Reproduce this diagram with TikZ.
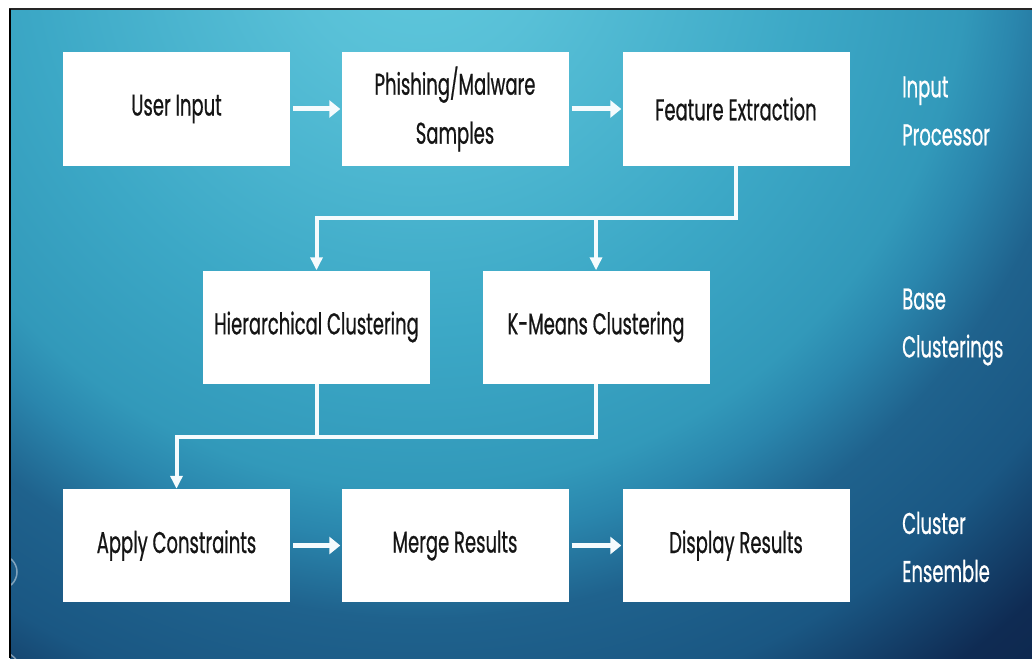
\documentclass[tikz,border=0pt]{standalone}
\usepackage{fontspec}
\setmainfont{Poppins}[FakeStretch=0.6, FakeBold=0.6]
\usetikzlibrary{arrows.meta}
\definecolor{boxtext}{HTML}{151515}
\definecolor{linec}{HTML}{F5FBFD}
\definecolor{bgA}{HTML}{5FC9DD}
\definecolor{bgB}{HTML}{58C0D7}
\definecolor{bgC}{HTML}{3CA8C6}
\definecolor{bgD}{HTML}{3299BA}
\definecolor{bgE}{HTML}{2A86AD}
\definecolor{bgF}{HTML}{1F628D}
\definecolor{bgG}{HTML}{1A5783}
\definecolor{bgH}{HTML}{0F2B53}
\definecolor{bgI}{HTML}{0C2448}
\pgfdeclareradialshading{bgrad}{\pgfpointorigin}{%
  color(0bp)=(bgA); color(10bp)=(bgB); color(30bp)=(bgC); color(42bp)=(bgD);
  color(46bp)=(bgE); color(52bp)=(bgF); color(60bp)=(bgG); color(69bp)=(bgH); color(80bp)=(bgI)}
\begin{document}
\begin{tikzpicture}[x=1pt,y=-1pt,
  box/.style={fill=white, minimum width=227pt, minimum height=113pt, inner sep=0pt,
    align=center, text=boxtext, font=\fontsize{30}{49}\selectfont},
  lab/.style={anchor=west, align=left, text=white, inner sep=0pt, font=\fontsize{30}{48}\selectfont},
  conn/.style={draw=linec, line width=4pt},
  harrow/.style={draw=linec, line width=5pt, -{Triangle[width=17pt,length=11pt]}},
  varrow/.style={conn, -{Triangle[width=12pt,length=13pt]}}]
\useasboundingbox (0,0) rectangle (1032,658);
\fill[white] (0,0) rectangle (1032,658);
\begin{scope}
  \clip (10,9) rectangle (1032,658);
  \node[inner sep=0pt, outer sep=0pt, scale=13] (bg) at (420,-60) {\pgfuseshading{bgrad}};
  \draw[white, opacity=0.45, line width=1.5pt] (0,572) circle (17);
  \draw[white, opacity=0.45, line width=1.5pt] (-4,676) circle (26);
\end{scope}
\draw[black!85, line width=2pt] (9,9) -- (1032,9);
\draw[black, line width=2.5pt] (10,9) -- (10,658);

\node[box] (ui) at (176.5,109) {User Input};
\node[box] (pm) at (455,109) {Phishing/Malware\\Samples};
\node[box] (fe) at (736,109) {Feature Extraction};
\node[box] (hc) at (316.5,327) {Hierarchical Clustering};
\node[box] (km) at (596,327) {K-Means Clustering};
\node[box] (ac) at (176.5,545.5) {Apply Constraints};
\node[box] (mr) at (455,545.5) {Merge Results};
\node[box] (dr) at (736,545.5) {Display Results};

\node[lab] (l1) at (902,111) {Input\\Processor};
\node[lab] (l2) at (902,327) {Base\\Clusterings};
\node[lab] (l3) at (902,547) {Cluster\\Ensemble};

\draw[harrow] ([xshift=3pt]ui.east) -- ([xshift=-1pt]pm.west);
\draw[harrow] ([xshift=3pt]pm.east) -- ([xshift=-1pt]fe.west);
\draw[harrow] ([xshift=3pt]ac.east) -- ([xshift=-1pt]mr.west);
\draw[harrow] ([xshift=3pt]mr.east) -- ([xshift=-1pt]dr.west);

\path (fe.south) ++(0,52) coordinate (t1);
\draw[varrow] (fe.south) -- (t1) -| (hc.north);
\draw[varrow] (t1 -| km.north) -- (km.north);
\path (km.south) ++(0,53) coordinate (t2);
\draw[varrow] (km.south) -- (t2) -| (ac.north);
\draw[conn] (hc.south) -- (hc.south |- t2);
\end{tikzpicture}
\end{document}
